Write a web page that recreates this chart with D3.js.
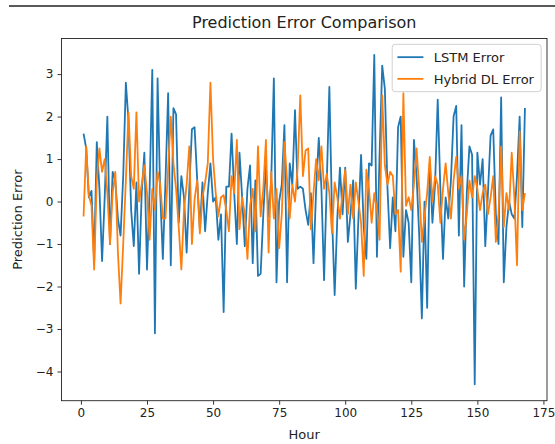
<!DOCTYPE html>
<meta charset="utf-8">
<style>
  body { margin: 0; background: #fff; }
  text { font-family: "DejaVu Sans", sans-serif; fill: #222; }
</style>
<body id="chart"></body>
<script src="https://cdn.jsdelivr.net/npm/d3@7"></script>
<script>
// hourly prediction errors (hours 1..168)
var lstmError = [
  1.6, 1.25, 0.1, 0.25, -1.4, 1.4, 0.3, -1.4, 0.1, 2.0,
  -1.0, 0.7, 0.5, -0.4, -0.8, 0.6, 2.8, 1.9, -0.2, -1.05,
  0.45, -1.7, 0.2, 1.15, -1.6, 0.3, 3.1, -3.1, 2.9, 0.2,
  -1.35, 0.5, 2.55, -1.5, 2.2, 2.05, -0.5, 0.6, 0.1, -1.2,
  0.3, 1.7, 1.75, 0.5, -0.65, 0.45, -0.7, 0.2, 0.9, 0.0,
  0.1, -0.9, -0.3, -2.6, 0.35, 0.35, 1.6, 0.2, -1.0, 1.15,
  0.1, -1.05, 0.3, 0.85, -1.45, 0.5, -1.75, -1.7, -0.3, 0.85,
  -0.35, 0.5, 2.9, -1.9, 0.0, 0.4, 1.8, -1.9, 0.9, 0.4,
  2.15, 0.3, 0.35, 0.3, -0.2, -0.55, 0.2, -1.45, 0.3, 1.5,
  0.3, -1.85, 0.4, 2.7, -0.3, -2.2, -0.4, 0.8, -0.3, 0.8,
  -0.95, -0.3, 0.5, -2.05, -0.4, 1.1, -0.6, -1.35, 0.9, 0.85,
  3.45, -1.3, 1.1, 3.2, 2.65, 0.3, -1.1, 0.1, -0.7, 1.75,
  2.0, -1.3, -0.2, -0.5, -1.9, 1.45, 0.6, -0.8, -2.75, 0.0,
  -2.5, 0.9, -0.5, 0.4, 2.4, 0.3, -1.35, 0.1, -0.4, 0.5,
  2.0, 2.25, -0.8, 1.8, -2.0, 0.2, 1.3, 1.1, -4.3, 1.15,
  0.4, 1.0, -1.05, 0.2, 1.55, 1.7, -0.3, -1.0, 2.45, -1.9,
  -0.6, 0.0, -0.3, -0.4, 0.6, 2.0, -0.6, 2.2
];
var hybridError = [
  -0.35, 1.3, 0.15, -0.1, -1.6, 0.5, 1.25, 0.7, 1.0, 0.2,
  -1.0, 0.2, 0.7, -1.2, -2.4, -1.0, 0.5, 2.1, 0.6, 0.3,
  2.1, 0.0, 0.4, 0.85, 0.2, -0.9, 0.3, -0.2, 0.7, 0.4,
  -0.4, -0.4, 0.8, 2.0, 0.9, 0.3, -0.6, -1.6, -0.2, 0.4,
  1.3, -1.0, 0.05, 0.5, -0.75, 0.1, 0.45, 0.9, 2.8, 1.0,
  0.2, -0.35, 0.1, 0.15, -0.2, -0.7, 0.6, 0.2, 1.45, -0.65,
  0.1, -0.3, -1.35, -0.1, 0.3, -0.7, 1.3, -0.35, 0.3, 1.45,
  -1.2, 0.7, -0.4, 0.3, -1.1, -0.3, 1.4, 0.5, -0.4, 0.4,
  0.0, 0.8, 2.5, 0.6, 1.2, 1.25, -0.65, 0.2, 1.0, 0.5,
  1.3, 0.3, 0.65, 0.2, -0.75, 0.45, 0.1, -0.4, 0.2, 0.75,
  -0.3, 0.4, -0.4, 0.45, 0.0, -0.5, -1.75, 0.75, 0.3, -0.5,
  0.2, -0.2, -0.9, 2.5, 0.85, 0.4, 0.7, 0.6, -0.3, -0.2,
  -1.65, 2.55, -0.1, 0.1, -0.2, 0.4, 1.25, 0.3, -0.95, -0.35,
  0.2, 1.05, 0.0, 0.6, 0.4, -0.5, 0.3, 0.9, 0.2, -0.4,
  0.5, 1.05, 0.3, 0.6, -0.9, -0.3, 0.5, 0.1, 0.6, 0.3,
  -0.2, 0.2, 0.4, -0.3, 0.1, 0.6, -0.95, -0.3, 1.3, -0.6,
  0.2, -0.2, 1.15, 0.1, -1.5, 1.65, -0.2, 0.2
];
var hours = d3.range(1, lstmError.length + 1);
var seriesNames = ["LSTM Error", "Hybrid DL Error"];
var seriesColors = ["#1f77b4", "#ff7f0e"];
var xTicks = [0, 25, 50, 75, 100, 125, 150, 175];
var yTicks = [-4, -3, -2, -1, 0, 1, 2, 3];

var width = 555, height = 444;
var margin = {top: 38.5, right: 8, bottom: 43.3, left: 61.5};
var plotW = width - margin.left - margin.right,
    plotH = height - margin.top - margin.bottom;
var fs = 13; // base font size

// matplotlib style 5% padding
function padded(ext) {
  var p = (ext[1] - ext[0]) * 0.05;
  return [ext[0] - p, ext[1] + p];
}
var x = d3.scaleLinear().domain(padded(d3.extent(hours))).range([0, plotW]);
var allVals = lstmError.concat(hybridError);
var y = d3.scaleLinear().domain(padded(d3.extent(allVals))).range([plotH, 0]);

var svg = d3.select("#chart").append("svg")
    .attr("width", width)
    .attr("height", height);

// screenshot edge line at the top
svg.append("line")
    .attr("x1", 9).attr("x2", width).attr("y1", 6).attr("y2", 6)
    .attr("stroke", "#222").attr("stroke-width", 1.5);

var g = svg.append("g")
    .attr("transform", "translate(" + margin.left + "," + margin.top + ")");

var fmt = function(d) { return d < 0 ? "\u2212" + Math.abs(d) : "" + d; };

var xAxis = g.append("g")
    .attr("transform", "translate(0," + plotH + ")")
    .call(d3.axisBottom(x).tickValues(xTicks).tickSize(4).tickPadding(4).tickFormat(fmt));
var yAxis = g.append("g")
    .call(d3.axisLeft(y).tickValues(yTicks).tickSize(4).tickPadding(4).tickFormat(fmt));
[xAxis, yAxis].forEach(function(a) {
  a.select(".domain").remove();
  a.selectAll("line").attr("stroke", "#222").attr("stroke-width", 0.9);
  a.selectAll("text").style("font-size", "12px").attr("fill", "#222");
});

var line = d3.line()
    .x(function(d, i) { return x(hours[i]); })
    .y(function(d) { return y(d); });

[lstmError, hybridError].forEach(function(s, k) {
  g.append("path")
      .datum(s)
      .attr("fill", "none")
      .attr("stroke", seriesColors[k])
      .attr("stroke-width", 1.8)
      .attr("stroke-linejoin", "round")
      .attr("d", line);
});

// frame
g.append("rect")
    .attr("width", plotW).attr("height", plotH)
    .attr("fill", "none").attr("stroke", "#222").attr("stroke-width", 0.9);

// title and axis labels
svg.append("text")
    .attr("x", margin.left + plotW / 2).attr("y", 28)
    .attr("text-anchor", "middle").style("font-size", "16px")
    .text("Prediction Error Comparison");
svg.append("text")
    .attr("x", margin.left + plotW / 2).attr("y", 439)
    .attr("text-anchor", "middle").style("font-size", fs + "px")
    .text("Hour");
svg.append("text")
    .attr("transform", "translate(22," + (margin.top + plotH / 2) + ") rotate(-90)")
    .attr("text-anchor", "middle").style("font-size", fs + "px")
    .text("Prediction Error");

// legend, laid out with matplotlib's em-based paddings
var pad = 0.4 * fs, handleLen = 2 * fs, textPad = 0.8 * fs, rowH = fs * 1.17, rowGap = 0.5 * fs;
var lg = g.append("g");
var items = seriesNames.map(function(n, k) {
  var yy = pad + rowH / 2 + k * (rowH + rowGap);
  lg.append("line")
      .attr("x1", pad).attr("x2", pad + handleLen).attr("y1", yy).attr("y2", yy)
      .attr("stroke", seriesColors[k]).attr("stroke-width", 1.8);
  return lg.append("text")
      .attr("x", pad + handleLen + textPad).attr("y", yy)
      .attr("dy", "0.36em")
      .style("font-size", fs + "px")
      .text(n);
});
var textW = d3.max(items, function(t) { return t.node().getComputedTextLength(); });
var boxW = pad * 2 + handleLen + textPad + textW + 2,
    boxH = pad * 2 + rowH * 2 + rowGap;
lg.insert("rect", ":first-child")
    .attr("width", boxW).attr("height", boxH).attr("rx", 3)
    .attr("fill", "#fff").attr("fill-opacity", 0.8)
    .attr("stroke", "#ccc").attr("stroke-width", 0.9);
lg.attr("transform", "translate(" + (plotW - 0.45 * fs - boxW) + "," + (0.45 * fs) + ")");
</script>
